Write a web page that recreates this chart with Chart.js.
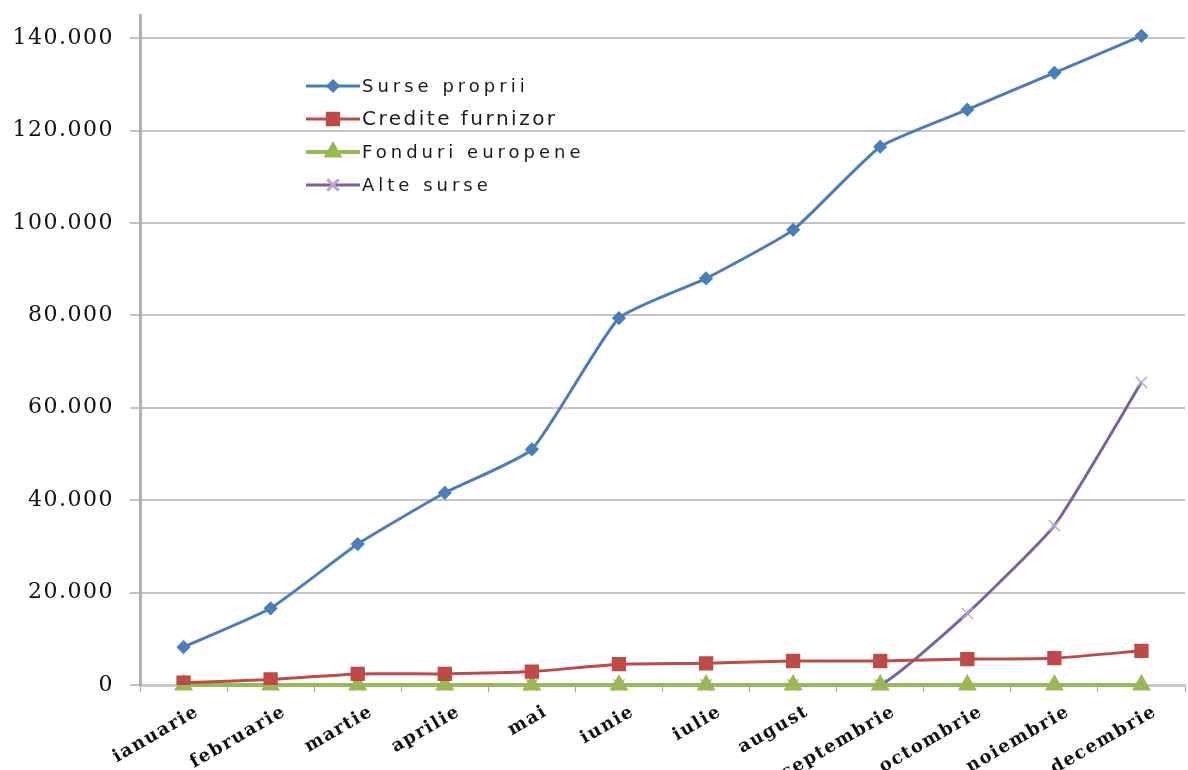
<!DOCTYPE html>
<html>
<head>
<meta charset="utf-8">
<script src="https://cdn.jsdelivr.net/npm/chart.js@4"></script>
<style>
    html, body { margin: 0; padding: 0; background: #fff; overflow: hidden; }
    #wrap { position: relative; width: 1196px; height: 770px; }
</style>
</head>
<body>
<div id="wrap"><canvas id="surseChart"></canvas></div>
<script>
// Date grafic
const luni = ['ianuarie', 'februarie', 'martie', 'aprilie', 'mai', 'iunie',
              'iulie', 'august', 'septembrie', 'octombrie', 'noiembrie', 'decembrie'];
const sursePropii = [8200, 16600, 30500, 41600, 51000, 79400, 88000, 98500, 116500, 124500, 132500, 140500];
const crediteFurnizor = [500, 1200, 2400, 2400, 2900, 4500, 4700, 5200, 5200, 5600, 5800, 7400];
const fonduriEuropene = [0, 0, 0, 0, 0, 0, 0, 0, 0, 0, 0, 0];
const alteSurse = [null, null, 0, 0, 0, 0, 0, 0, 0, 15500, 34500, 65500];
const yTicks = [0, 20000, 40000, 60000, 80000, 100000, 120000, 140000];

// Formatare numere cu punct ca separator de mii
function formatNumar(v) {
    return String(v).replace(/\B(?=(\d{3})+(?!\d))/g, '.');
}

// Spatiere litere pentru textele axelor
const spatiereText = {
    id: 'spatiereText',
    beforeDraw(chart) {
        chart.ctx.letterSpacing = '1.5px';
    }
};

// Legenda desenata in interiorul graficului
const legendaInterna = {
    id: 'legendaInterna',
    afterDraw(chart) {
        const ctx = chart.ctx;
        const x0 = 306, x1 = 360;
        const randuri = [86, 119, 152, 185];
        ctx.save();
        ctx.textBaseline = 'middle';
        chart.data.datasets.forEach((ds, i) => {
            const y = randuri[i];
            ctx.strokeStyle = ds.borderColor;
            ctx.lineWidth = ds.borderWidth;
            ctx.beginPath();
            ctx.moveTo(x0, y);
            ctx.lineTo(x1, y);
            ctx.stroke();
            ctx.fillStyle = ds.pointBackgroundColor;
            ctx.strokeStyle = ds.pointBorderColor;
            Chart.helpers.drawPoint(ctx, {
                pointStyle: ds.pointStyle,
                radius: ds.pointRadius,
                rotation: 0,
                borderWidth: ds.pointBorderWidth || 1
            }, (x0 + x1) / 2, y);
            ctx.fillStyle = '#1a1a1a';
            ctx.font = (i === 1 ? '20px' : '18px') + ' "DejaVu Sans"';
            ctx.letterSpacing = i === 1 ? '2.5px' : '4px';
            ctx.fillText(ds.label, x1 + 2, y + 1);
        });
        ctx.restore();
    }
};

document.addEventListener('DOMContentLoaded', function() {
    const ctx = document.getElementById('surseChart').getContext('2d');

    new Chart(ctx, {
        type: 'line',
        data: {
            labels: luni,
            datasets: [
                {
                    label: 'Surse proprii',
                    data: sursePropii,
                    borderColor: '#4A7EBB',
                    backgroundColor: '#4A7EBB',
                    pointBackgroundColor: '#4A7EBB',
                    pointBorderColor: '#4A7EBB',
                    borderWidth: 3,
                    pointStyle: 'rectRot',
                    pointRadius: 5,
                    tension: 0.15
                },
                {
                    label: 'Credite furnizor',
                    data: crediteFurnizor,
                    borderColor: '#BE4B48',
                    backgroundColor: '#BE4B48',
                    pointBackgroundColor: '#BE4B48',
                    pointBorderColor: '#BE4B48',
                    borderWidth: 3,
                    pointStyle: 'rect',
                    pointRadius: 8,
                    tension: 0.15
                },
                {
                    label: 'Fonduri europene',
                    data: fonduriEuropene,
                    borderColor: '#98B954',
                    backgroundColor: '#98B954',
                    pointBackgroundColor: '#98B954',
                    pointBorderColor: '#98B954',
                    borderWidth: 4,
                    pointStyle: 'triangle',
                    pointRadius: 7,
                    tension: 0.15,
                    clip: 10
                },
                {
                    label: 'Alte surse',
                    data: alteSurse,
                    borderColor: '#7D60A0',
                    backgroundColor: '#7D60A0',
                    pointBackgroundColor: '#B9A7D0',
                    pointBorderColor: '#B9A7D0',
                    pointBorderWidth: 1.5,
                    borderWidth: 3,
                    pointStyle: 'crossRot',
                    pointRadius: 8,
                    tension: 0.15,
                    clip: 10
                }
            ]
        },
        options: {
            responsive: true,
            maintainAspectRatio: false,
            animation: false,
            layout: { padding: { top: 15, right: 0, left: 0, bottom: 0 } },
            plugins: {
                legend: { display: false },
                tooltip: { enabled: false }
            },
            scales: {
                x: {
                    offset: true,
                    grid: {
                        display: true,
                        drawOnChartArea: false,
                        offset: true,
                        color: '#a0a0a0',
                        tickLength: 7
                    },
                    border: { color: '#c8c8c8', width: 3 },
                    ticks: {
                        minRotation: 30,
                        maxRotation: 30,
                        autoSkip: false,
                        padding: 9,
                        labelOffset: 14,
                        color: '#111',
                        font: { family: '"DejaVu Serif"', size: 18, weight: 'bold' }
                    },
                    afterFit(scale) {
                        scale.height = 85;
                        scale.paddingLeft = 0;
                        scale.paddingRight = 0;
                    }
                },
                y: {
                    min: 0,
                    max: 145000,
                    afterBuildTicks(scale) {
                        scale.ticks = yTicks.map(v => ({ value: v }));
                    },
                    grid: {
                        color: '#c4c4c4',
                        lineWidth: 2,
                        tickLength: 10
                    },
                    border: { color: '#b0b0b0', width: 3 },
                    ticks: {
                        padding: 16,
                        color: '#111',
                        font: { family: '"DejaVu Serif"', size: 22 },
                        callback: v => formatNumar(v)
                    },
                    afterFit(scale) {
                        scale.width = 140;
                        scale.paddingTop = 0;
                        scale.paddingBottom = 0;
                    }
                }
            }
        },
        plugins: [spatiereText, legendaInterna]
    });
});
</script>
</body>
</html>
